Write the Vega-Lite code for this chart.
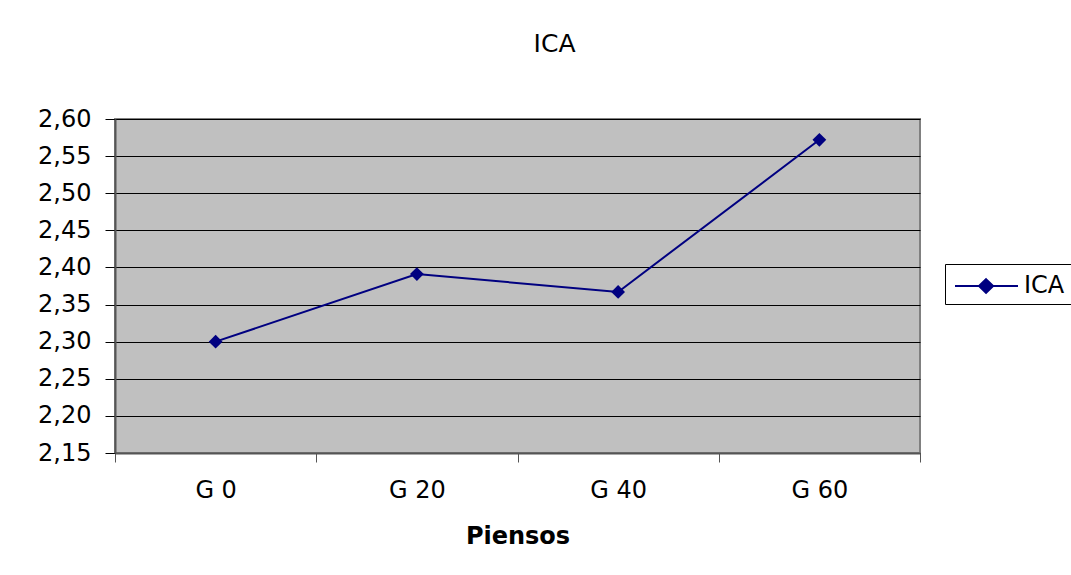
{
  "$schema": "https://vega.github.io/schema/vega-lite/v6.json",
  "autosize": {"type": "none"},
  "padding": {"left": 115, "top": 119, "right": 151, "bottom": 122},
  "width": 805,
  "height": 334,
  "background": "white",
  "title": {"text": "ICA", "anchor": "middle", "frame": "bounds", "font": "DejaVu Sans", "fontSize": 25, "fontWeight": "normal", "color": "black", "offset": 50},
  "data": {"values": [
    {"pienso": "G 0", "ica": 2.30, "serie": "ICA"},
    {"pienso": "G 20", "ica": 2.391, "serie": "ICA"},
    {"pienso": "G 40", "ica": 2.367, "serie": "ICA"},
    {"pienso": "G 60", "ica": 2.572, "serie": "ICA"}
  ]},
  "config": {
    "view": {"fill": "#C0C0C0", "stroke": "#808080", "strokeWidth": 2},
    "font": "DejaVu Sans"
  },
  "mark": {"type": "line", "color": "#000080", "strokeWidth": 2, "point": {"filled": true, "shape": "diamond", "size": 190, "color": "#000080"}},
  "encoding": {
    "x": {"field": "pienso", "type": "nominal", "sort": null,
      "scale": {"type": "band", "paddingInner": 0, "paddingOuter": 0},
      "axis": {"title": "Piensos", "labelAngle": 0, "labelFontSize": 24, "labelColor": "black", "labelPadding": 16, "tickSize": 9, "tickColor": "#555", "domainColor": "#555", "domainWidth": 2, "tickBand": "extent", "tickExtra": true, "grid": false, "titleFontSize": 24, "titleFontWeight": "bold", "titleColor": "black", "titlePadding": 22}},
    "y": {"field": "ica", "type": "quantitative",
      "scale": {"domain": [2.15, 2.6], "nice": false, "zero": false},
      "axis": {"title": null, "values": [2.15, 2.2, 2.25, 2.3, 2.35, 2.4, 2.45, 2.5, 2.55, 2.6], "labelExpr": "replace(format(datum.value, '.2f'), '.', ',')", "labelFontSize": 24, "labelColor": "black", "labelPadding": 14, "tickSize": 10, "tickColor": "black", "domainColor": "#555", "domainWidth": 2, "grid": true, "gridColor": "black", "gridWidth": 1, "gridOpacity": 1}},
    "color": {"field": "serie", "type": "nominal", "scale": {"range": ["#000080"]},
      "legend": {"title": null, "orient": "none", "legendX": 830, "legendY": 145, "strokeColor": "black", "fillColor": "white", "padding": 6, "symbolType": "M-0.8,0H3.4M1.27,-0.45L1.74,0L1.27,0.45L0.8,0Z", "symbolSize": 900, "symbolStrokeWidth": 2, "symbolFillColor": "#000080", "symbolStrokeColor": "#000080", "labelFontSize": 24, "labelColor": "black", "labelOffset": 41}}
  }
}
